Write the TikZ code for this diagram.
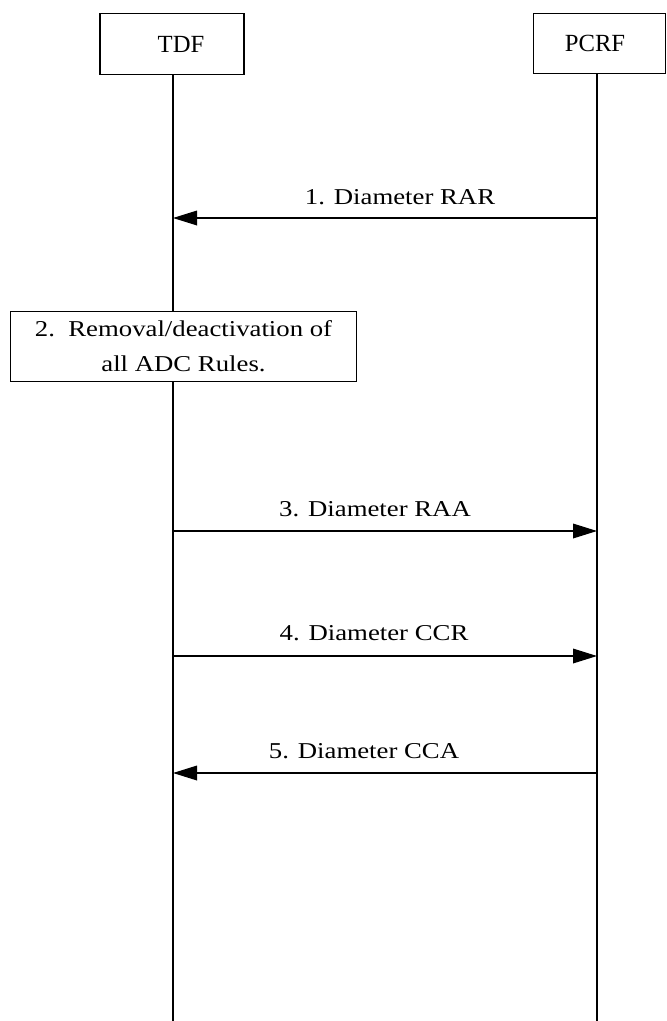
\documentclass[tikz,border=0pt]{standalone}
\usepackage{fontspec}
\setmainfont{Liberation Serif}
\newfontfamily\msgfont[FakeStretch=1.18]{Liberation Serif}
\usepackage{tikz}
\usetikzlibrary{arrows.meta, positioning, calc}

\tikzset{
  entity/.style={draw, line width=0.9pt, minimum height=46pt, inner sep=0pt, font=\fontsize{18.5}{22}\selectfont},
  lifeline/.style={line width=0.9pt},
  msg/.style={line width=0.9pt, -{Triangle[length=18pt, width=11pt]}},
  msglabel/.style={font=\msgfont\fontsize{17}{20}\selectfont, inner sep=0pt},
  actionbox/.style={draw, line width=0.9pt, minimum width=260pt, minimum height=53pt, align=center, font=\msgfont\fontsize{17}{26}\selectfont}
}

\begin{document}
\begin{tikzpicture}[x=0.75pt, y=-0.75pt]
    \useasboundingbox (0,0) rectangle (667,1021);

    % Entities
    \node[entity, minimum width=108pt] (tdf) at (172, 44) {\hspace*{13.5pt}TDF};
    \node[entity, minimum width=99.5pt, minimum height=45.5pt] (pcrf) at (599.5, 43.5) {PCRF\hspace*{6.75pt}};

    % Lifelines
    \coordinate (tdfEnd) at (173, 1021);
    \coordinate (pcrfEnd) at (597, 1021);

    % Points on the lifelines
    \foreach \n/\y in {1/218, 3/531, 4/656, 5/773} {
      \coordinate (t\n) at (173, \y);
      \coordinate (p\n) at (597, \y);
    }

    % Step 2 box
    \node[actionbox] (remove) at (183.5, 346.5) {2.\ \ Removal/deactivation of\\all ADC Rules.};

    \draw[lifeline] (tdf.south -| tdfEnd) -- (remove.north -| tdfEnd);
    \draw[lifeline] (remove.south -| tdfEnd) -- (tdfEnd);
    \draw[lifeline] (pcrf.south -| pcrfEnd) -- (pcrfEnd);

    % Messages
    \draw[msg] (p1) -- (t1);
    \node[msglabel] (l1) at (400, 197) {1. Diameter RAR};
    \draw[msg] (t3) -- (p3);
    \node[msglabel] (l3) at (375, 509) {3. Diameter RAA};
    \draw[msg] (t4) -- (p4);
    \node[msglabel] (l4) at (374, 633) {4. Diameter CCR};
    \draw[msg] (p5) -- (t5);
    \node[msglabel] (l5) at (364, 751) {5. Diameter CCA};

\end{tikzpicture}
\end{document}
